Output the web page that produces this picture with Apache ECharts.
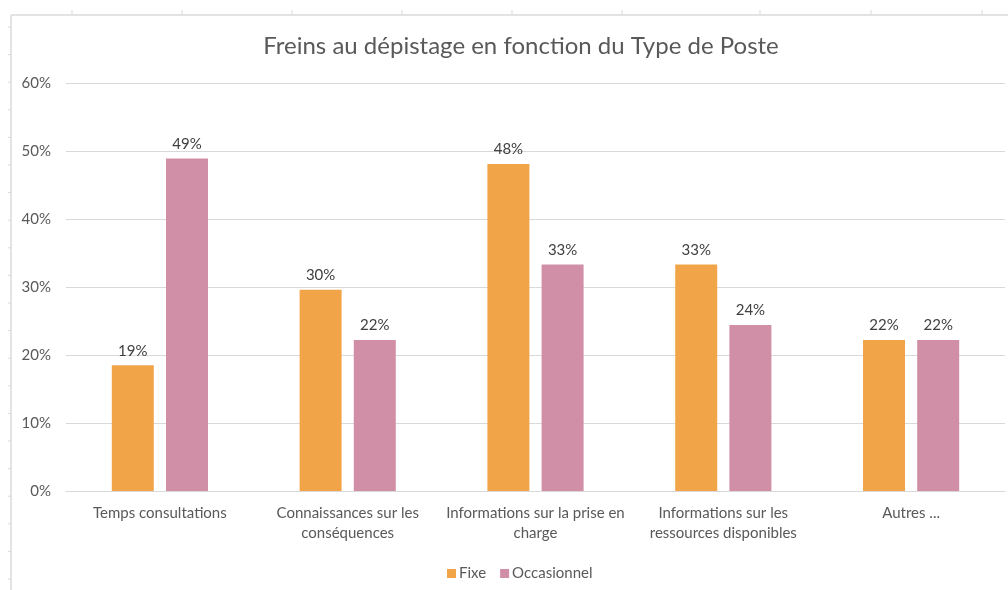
<!DOCTYPE html>
<html>
<head>
<meta charset="utf-8">
<script src="https://cdn.jsdelivr.net/npm/echarts@6/dist/echarts.min.js"></script>
<style>
    html, body { margin: 0; padding: 0; background: #fff; }
    #chart { width: 1008px; height: 590px; }
</style>
</head>
<body>
<div id="chart"></div>
<script>
    // categories and values (fractions)
    const categories = [
        'Temps consultations',
        'Connaissances sur les\nconséquences',
        'Informations sur la prise en\ncharge',
        'Informations sur les\nressources disponibles',
        'Autres ...'
    ];
    const fixe = [0.185, 0.296, 0.481, 0.333, 0.222];
    const occasionnel = [0.489, 0.222, 0.333, 0.244, 0.222];
    const yTicks = [0, 0.1, 0.2, 0.3, 0.4, 0.5, 0.6];

    const textColor = '#595959';
    const font = 'Lato, "Open Sans", sans-serif';

    // spreadsheet frame behind the chart (decoration only)
    let frame = [
        { type: 'line', shape: { x1: 11, y1: 15, x2: 1008, y2: 15 }, style: { stroke: '#dadada', lineWidth: 1.5 } },
        { type: 'line', shape: { x1: 11, y1: 15, x2: 11, y2: 590 }, style: { stroke: '#dadada', lineWidth: 1.5 } }
    ];
    [72, 182, 292, 402, 512, 622, 760, 871, 982].forEach((x) => {
        frame.push({ type: 'line', shape: { x1: x, y1: 10, x2: x, y2: 15 }, style: { stroke: '#dadada', lineWidth: 1 } });
    });
    for (let y = 27; y < 590; y += 27.6) {
        frame.push({ type: 'line', shape: { x1: 8, y1: y, x2: 11, y2: y }, style: { stroke: '#dadada', lineWidth: 1 } });
    }

    const pct = (p) => Math.round(p.value * 100) + '%';

    const chart = echarts.init(document.getElementById('chart'), null, { renderer: 'canvas' });
    chart.setOption({
        animation: false,
        textStyle: { fontFamily: font },
        title: {
            text: 'Freins au dépistage en fonction du Type de Poste',
            left: 516,
            top: 29,
            textAlign: 'center',
            textStyle: { fontFamily: font, fontSize: 24, fontWeight: 'normal', color: textColor }
        },
        legend: {
            data: ['Fixe', 'Occasionnel'],
            left: 442,
            top: 561,
            itemWidth: 9,
            itemHeight: 9,
            itemGap: 14,
            icon: 'rect',
            textStyle: { fontFamily: font, fontSize: 15, color: textColor, padding: [0, 0, 0, -2] }
        },
        grid: { left: 66, right: 3, top: 83, bottom: 99, containLabel: false },
        xAxis: {
            type: 'category',
            data: categories,
            axisLine: { lineStyle: { color: '#d9d9d9' } },
            axisTick: { show: false },
            axisLabel: { color: textColor, fontSize: 15, fontFamily: font, lineHeight: 20, margin: 12, interval: 0 }
        },
        yAxis: {
            type: 'value',
            min: yTicks[0],
            max: yTicks[yTicks.length - 1],
            interval: 0.1,
            axisLine: { show: false },
            axisTick: { show: false },
            splitLine: { lineStyle: { color: '#d9d9d9' } },
            axisLabel: {
                color: textColor, fontSize: 15, fontFamily: font, margin: 15,
                formatter: (v) => Math.round(v * 100) + '%'
            }
        },
        series: [
            {
                name: 'Fixe',
                type: 'bar',
                data: fixe,
                barWidth: 42,
                barGap: '29%',
                itemStyle: { color: '#F2A548' },
                label: { show: true, position: 'top', distance: 7, color: '#404040', fontSize: 15, fontFamily: font, formatter: pct }
            },
            {
                name: 'Occasionnel',
                type: 'bar',
                data: occasionnel,
                barWidth: 42,
                itemStyle: { color: '#D08FA6' },
                label: { show: true, position: 'top', distance: 7, color: '#404040', fontSize: 15, fontFamily: font, formatter: pct }
            }
        ],
        graphic: frame
    });
</script>
</body>
</html>
